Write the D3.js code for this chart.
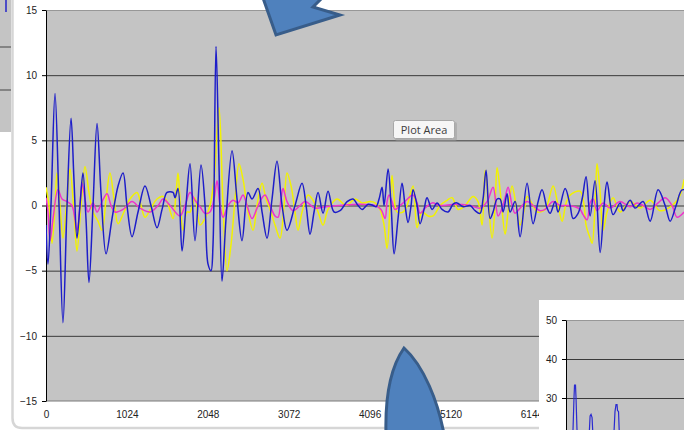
<!DOCTYPE html>
<html>
<head>
<meta charset="utf-8">
<script src="https://cdn.jsdelivr.net/npm/d3@7"></script>
<style>
  html, body { margin: 0; padding: 0; background: #fff; }
  svg { display: block; }
</style>
</head>
<body>
<svg id="chart"></svg>
<script>
// tick labels
const xTicks = [0, 1024, 2048, 3072, 4096, 5120, 6144, 7168];
const yTicks = [15, 10, 5, 0, -5, -10, -15];
const insetTicks = [50, 40, 30];

// [sample, value]
const blueSeries = [
  [0, -1.5], [25, -4.5], [63, 0], [114, 8.6], [165, 0], [215, -9], [266, 0], [317, 6.7], [354, 2], [392, -2.5],
  [430, 0], [468, 2.5], [506, -1], [544, -5.9], [595, 0], [646, 6.3], [696, 1], [760, -3.7], [836, -1], [912, 1.5],
  [975, 2.5], [1025, 0], [1089, -2.4], [1165, -0.5], [1253, 1.5], [1329, 0], [1405, -1.7], [1469, -0.3], [1532, 1],
  [1608, 1], [1633, 0.6], [1671, 1.3], [1722, -3.5], [1772, 0], [1823, 3.2], [1886, -2.7], [1962, 3.1], [2013, 0],
  [2051, -4.5], [2089, -5], [2114, -3], [2152, 12.2], [2190, 3], [2228, -5.8], [2279, -1], [2355, 4.2], [2418, 0.5],
  [2481, -2.7], [2557, 1], [2608, 0.5], [2684, 1.3], [2735, -0.5], [2798, -2.5], [2861, 0.5], [2924, 3.4], [2988, 0],
  [3051, -1.9], [3152, 0], [3241, 1.7], [3292, 0], [3342, -2.2], [3393, -0.5], [3444, 1], [3507, -0.6], [3570, 1.1],
  [3646, -0.5], [3722, -0.4], [3811, 0.3], [3887, 0.5], [3950, 0], [4001, -0.3], [4077, 0.1], [4140, 0], [4178, -0.1],
  [4216, 0.5], [4254, 1.4], [4279, 0], [4330, 2.8], [4368, 0], [4406, -3.7], [4456, -1], [4507, 1.7], [4545, 0],
  [4583, -1.3], [4621, 0], [4646, 1.2], [4697, 0], [4735, -1.4], [4785, -0.3], [4823, 0.6], [4887, -0.3], [4950, 0.2],
  [5013, -0.3], [5089, -0.5], [5153, 0.1], [5203, 0.2], [5279, -0.1], [5368, 0], [5431, -0.4], [5494, -0.6],
  [5532, 0.5], [5570, 2.7], [5621, -1], [5659, -0.5], [5710, 0.5], [5748, 0.5], [5786, -0.5], [5836, 0.9],
  [5874, -0.5], [5938, 0.3], [6001, -2.4], [6089, 1.7], [6165, -1.4], [6229, 0.3], [6279, 1.2], [6343, -0.2],
  [6381, -0.6], [6444, 0.3], [6482, -0.5], [6571, 1.3], [6634, 0], [6672, -1], [6735, -0.6], [6786, 0.5], [6836, 2.2],
  [6887, -0.8], [6950, 1.9], [7014, -3.6], [7064, 0], [7102, 1.8], [7178, -0.7], [7267, 0.2], [7305, -0.4],
  [7393, 0.4], [7457, -0.2], [7558, 0.3], [7647, -1.2], [7748, 1.2], [7837, 0], [7900, -1.2], [7976, 0], [8052, 1.2],
  [8153, 1.0]
];

const yellowSeries = [
  [0, 1.4], [38, 0], [76, -2.9], [114, 0], [139, 2.5], [177, 0], [215, -2.5], [266, 0.5], [304, 2.8], [354, -0.5],
  [392, -3.5], [443, 0], [494, 3], [544, 1], [595, -0.5], [658, -1.2], [709, -1.9], [760, 0.5], [810, 2.5], [861, 0.5],
  [912, -1.4], [987, -0.5], [1063, 0.5], [1152, 1], [1203, 0], [1253, -0.9], [1329, -0.2], [1405, 0.5], [1481, 0.7],
  [1532, 0.3], [1608, -1], [1646, 1], [1671, 2.5], [1696, 0.5], [1734, -1.9], [1785, -0.5], [1823, -0.5], [1886, 0.6],
  [1950, -1.5], [2013, -1], [2076, 0], [2127, 2], [2190, 7.5], [2241, 0], [2291, -5], [2342, -3], [2393, 0.5],
  [2443, 3.2], [2494, 2], [2557, -0.5], [2621, -1.9], [2671, 0], [2735, 1.7], [2785, 0.5], [2836, -0.3], [2899, -1.5],
  [2962, -2.5], [3013, 0], [3051, 2.5], [3102, 1.5], [3152, -0.5], [3190, -1.9], [3241, -0.5], [3317, 0.8],
  [3380, 0.4], [3444, -0.5], [3507, -1.5], [3570, -0.3], [3684, 0.5], [3798, 0], [3912, 0.5], [4001, 0.2],
  [4102, 0.3], [4165, 0.2], [4228, -0.3], [4279, -1.5], [4317, -3.3], [4355, 0], [4380, 2.3], [4418, 0], [4444, -0.5],
  [4520, -0.5], [4570, 0], [4646, 1.5], [4697, -1.7], [4760, -0.5], [4836, -0.8], [4899, -0.8], [4988, 0],
  [5077, 0.4], [5140, 0.6], [5216, -0.3], [5305, 0], [5406, 0.7], [5469, 0.3], [5520, -1.5], [5558, 2.7], [5596, 0.5],
  [5646, -2.5], [5684, 0], [5710, 2.9], [5760, 0.5], [5811, -2.2], [5849, -0.5], [5900, 1.5], [5950, 0], [6001, -1.5],
  [6064, 0], [6089, 0.7], [6165, 0], [6216, -0.5], [6317, -0.3], [6419, 1.5], [6482, 0], [6533, -1.2], [6583, 0.2],
  [6634, 0.8], [6760, 1.1], [6811, 0], [6836, -1.5], [6887, -2.5], [6912, -2.9], [6950, 0], [6975, 3.2], [7014, 1],
  [7051, -1.9], [7102, -0.5], [7178, 0.6], [7267, -0.5], [7393, 0.3], [7520, -0.2], [7647, 0.4], [7773, -0.4],
  [7925, 0], [8026, 0.8], [8077, 2]
];

const magentaSeries = [
  [0, 0.6], [25, -0.5], [51, -2.7], [89, -1], [152, 1.2], [203, 0.5], [266, 0.3], [329, 0], [392, -1.9], [430, 0],
  [456, 1.7], [494, 0.5], [532, -0.5], [595, 0.2], [646, -0.5], [709, 0.3], [772, 0.9], [823, 0], [874, -0.5],
  [975, -0.3], [1089, 0.3], [1190, -0.2], [1317, -0.5], [1418, 0], [1481, 0.5], [1570, 0], [1696, -0.8], [1760, 0],
  [1823, 1], [1886, 0.4], [1950, -0.1], [2013, -0.6], [2076, -0.5], [2127, 0.5], [2165, 1.9], [2203, 0], [2241, -0.9],
  [2304, 0], [2367, 0.4], [2431, 0.2], [2494, 0.8], [2545, 0], [2608, -1], [2671, -0.2], [2735, 0.6], [2773, 0.8],
  [2836, 0], [2899, -0.8], [2937, -0.9], [2975, 0.5], [3000, 1.3], [3051, 0.3], [3127, -0.4], [3216, 0], [3279, 0.3],
  [3406, -0.2], [3532, -0.1], [3722, 0], [3975, 0.1], [4165, 0], [4241, -0.3], [4292, -1], [4317, 0.3], [4342, 0.8],
  [4380, 0.3], [4418, -0.3], [4482, 0], [4558, 0.4], [4646, 0.8], [4697, 0.2], [4735, -0.6], [4798, -0.2], [4887, 0.2],
  [4988, 0], [5178, 0.1], [5368, 0], [5494, -0.2], [5583, 0.3], [5659, 1.4], [5722, -0.8], [5773, -0.2], [5811, 0.6],
  [5849, 1.4], [5900, 0], [5938, -0.6], [6001, -0.2], [6089, 0.3], [6165, 0], [6254, -0.4], [6317, -0.3], [6419, 0.3],
  [6507, 0], [6596, 0], [6697, -0.1], [6760, -0.3], [6798, -0.7], [6849, -1.1], [6887, 0.2], [6925, 0.5], [6975, -0.4],
  [7051, 0.2], [7140, -0.2], [7267, 0.3], [7393, -0.1], [7482, 0.2], [7558, 0], [7647, -0.3], [7748, 0.2], [7837, 0.6],
  [7925, 0], [7988, -0.9], [8077, -0.5]
];

// small chart in the corner (only the tops of its peaks show)
const insetSeries = [
  [0, 8], [63, 12], [76, 19], [89, 22], [101, 30], [108, 33.3], [120, 33.3], [127, 30], [139, 22], [152, 19],
  [215, 12], [266, 14], [292, 20], [305, 25.4], [317, 25.8], [330, 25], [342, 20], [400, 12], [600, 18],
  [620, 26.5], [633, 28.3], [646, 28.3], [652, 26.8], [665, 26.5], [678, 19], [720, 12], [800, 10]
];

const W = 684, H = 430;
const svg = d3.select("#chart").attr("width", W).attr("height", H)
  .style("font-family", "'Liberation Sans', Arial, sans-serif");

// window behind, on the left
svg.append("rect").attr("x", 0).attr("y", 0).attr("width", 11).attr("height", 132).attr("fill", "#c4c4c4");
[47, 90].forEach(v => svg.append("line").attr("x1", 0).attr("x2", 11).attr("y1", v).attr("y2", v).attr("stroke", "#444"));
svg.append("line").attr("x1", 6).attr("x2", 6).attr("y1", 0).attr("y2", 12).attr("stroke", "#2525c8").attr("stroke-width", 1.5);
svg.append("path").attr("d", "M12.5,0 L12.5,418 Q12.5,428 22,428 L684,428")
  .attr("fill", "none").attr("stroke", "#d6d6d6").attr("stroke-width", 2.5);

// main chart
const plotLeft = 46, plotTop = 10, plotBottom = 401;
const x = d3.scaleLinear().domain([0, 8192]).range([plotLeft, plotLeft + 8 * 80.9]);
const y = d3.scaleLinear().domain([-15, 15]).range([plotBottom, plotTop]);

svg.append("rect").attr("x", plotLeft).attr("y", plotTop).attr("width", W - plotLeft).attr("height", plotBottom - plotTop).attr("fill", "#c4c4c4");
svg.append("line").attr("x1", plotLeft).attr("x2", W).attr("y1", plotTop + 0.5).attr("y2", plotTop + 0.5).attr("stroke", "#979797");
svg.append("line").attr("x1", plotLeft).attr("x2", W).attr("y1", plotBottom).attr("y2", plotBottom).attr("stroke", "#7a7a7a");

const grid = svg.append("g").attr("transform", `translate(${plotLeft},0)`)
  .call(d3.axisLeft(y).tickValues([10, 5, 0, -5, -10]).tickSize(-(W - plotLeft)).tickFormat(""));
grid.select(".domain").remove();
grid.selectAll(".tick line").attr("stroke", "#3a3a3a");

const yAxis = svg.append("g").attr("transform", `translate(${plotLeft},0)`)
  .call(d3.axisLeft(y).tickValues(yTicks).tickSize(4).tickPadding(5).tickSizeOuter(0));
yAxis.select(".domain").attr("stroke", "#000");
yAxis.selectAll(".tick line").attr("stroke", "#000");
yAxis.selectAll("text").attr("font-size", 10).attr("fill", "#222").style("font-family", "'Liberation Sans', Arial, sans-serif");

const xAxis = svg.append("g").attr("transform", `translate(0,${plotBottom})`)
  .call(d3.axisBottom(x).tickValues(xTicks).tickFormat(d3.format("d")).tickSize(0).tickPadding(10));
xAxis.select(".domain").remove();
xAxis.selectAll("text").attr("font-size", 10).attr("fill", "#222").style("font-family", "'Liberation Sans', Arial, sans-serif");

svg.append("clipPath").attr("id", "plot").append("rect")
  .attr("x", plotLeft).attr("y", plotTop).attr("width", W - plotLeft).attr("height", plotBottom - plotTop);

const line = d3.line().x(d => x(d[0])).y(d => y(d[1])).curve(d3.curveCatmullRom.alpha(0.5));
const plot = svg.append("g").attr("clip-path", "url(#plot)");
[[yellowSeries, "#f2f200"], [magentaSeries, "#ee33cc"], [blueSeries, "#1d1dc9"]].forEach(([data, color]) => {
  plot.append("path").datum(data).attr("d", line).attr("fill", "none")
    .attr("stroke", color).attr("stroke-width", 1.5).attr("stroke-linejoin", "round");
});

// tooltip
svg.append("rect").attr("x", 395).attr("y", 122).attr("width", 62).attr("height", 19).attr("rx", 2).attr("fill", "#9a9a9a").attr("opacity", 0.5);
svg.append("rect").attr("x", 393.5).attr("y", 120.5).attr("width", 61).attr("height", 18).attr("rx", 2)
  .attr("fill", "#f6f6f6").attr("stroke", "#a8a8a8");
svg.append("text").attr("x", 424).attr("y", 134).attr("text-anchor", "middle")
  .attr("font-size", 11).attr("fill", "#3c3c3c").style("font-family", "'Open Sans', 'Noto Sans', sans-serif").text("Plot Area");

// arrows
svg.append("path").attr("d", "M263,-2 L276,35 L340,15 L313,7 L322,-2 Z")
  .attr("fill", "#4f81bd").attr("stroke", "#385d8a").attr("stroke-width", 3).attr("stroke-linejoin", "miter");
svg.append("path").attr("d", "M404,348 C390,368 385,398 386,434 L444,434 C438,402 424,366 404,348 Z")
  .attr("fill", "#4f81bd").attr("stroke", "#385d8a").attr("stroke-width", 3);

// inset chart
const iLeft = 566, iTop = 320;
const xi = d3.scaleLinear().domain([0, 8192]).range([iLeft, iLeft + 8 * 80.9]);
const yi = d3.scaleLinear().domain([20, 50]).range([iTop + 117, iTop]);
svg.append("rect").attr("x", 539).attr("y", 300).attr("width", W - 539).attr("height", H - 300).attr("fill", "#fff");
svg.append("rect").attr("x", iLeft).attr("y", iTop).attr("width", W - iLeft).attr("height", H - iTop).attr("fill", "#c4c4c4");
svg.append("line").attr("x1", iLeft).attr("x2", W).attr("y1", iTop + 0.5).attr("y2", iTop + 0.5).attr("stroke", "#979797");
const iGrid = svg.append("g").attr("transform", `translate(${iLeft},0)`)
  .call(d3.axisLeft(yi).tickValues([40, 30]).tickSize(-(W - iLeft)).tickFormat(""));
iGrid.select(".domain").remove();
iGrid.selectAll(".tick line").attr("stroke", "#3a3a3a");
const iAxis = svg.append("g").attr("transform", `translate(${iLeft},0)`)
  .call(d3.axisLeft(yi).tickValues(insetTicks).tickSize(4).tickPadding(5).tickSizeOuter(0));
iAxis.select(".domain").attr("stroke", "#000");
iAxis.selectAll(".tick line").attr("stroke", "#000");
iAxis.selectAll("text").attr("font-size", 10).attr("fill", "#222").style("font-family", "'Liberation Sans', Arial, sans-serif");

svg.append("clipPath").attr("id", "inset").append("rect")
  .attr("x", iLeft).attr("y", iTop).attr("width", W - iLeft).attr("height", H - iTop);
svg.append("g").attr("clip-path", "url(#inset)").append("path").datum(insetSeries)
  .attr("d", d3.line().x(d => xi(d[0])).y(d => yi(d[1])))
  .attr("fill", "none").attr("stroke", "#2a2ad0").attr("stroke-width", 1.2);
</script>
</body>
</html>
